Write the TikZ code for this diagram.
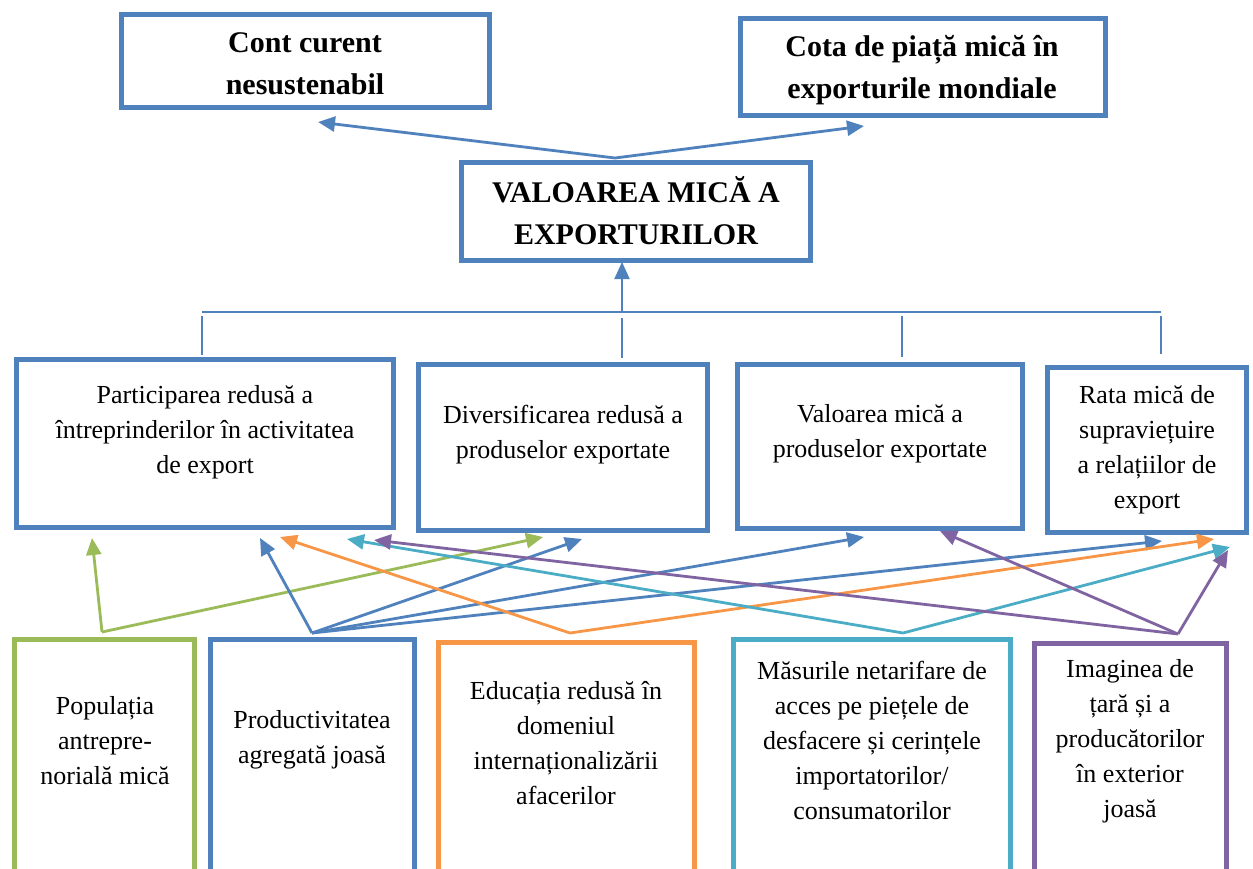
\documentclass[tikz,border=0pt]{standalone}
\usepackage{fontspec}
\setmainfont{Liberation Serif}
\usetikzlibrary{arrows.meta,calc}
\definecolor{cblue}{HTML}{4F81BD}
\definecolor{cgreen}{HTML}{9BBB59}
\definecolor{corange}{HTML}{F79646}
\definecolor{ccyan}{HTML}{4BACC6}
\definecolor{cpurple}{HTML}{8064A2}
\tikzset{
  box/.style={draw=#1, line width=5pt, inner sep=0pt, fill=white},
  txt/.style={align=center, inner sep=0pt, font=\fontsize{26}{35}\selectfont},
  ttl/.style={align=center, inner sep=0pt, font=\fontsize{30}{42}\selectfont\bfseries},
  arr/.style={draw=#1, line width=2.8pt, -{Triangle[length=17pt,width=15pt]}},
  thin/.style={draw=cblue, line width=1.3pt},
}
\begin{document}
\begin{tikzpicture}[x=1pt,y=-1pt]
\useasboundingbox (0,0) rectangle (1253,868);
\clip (0,0) rectangle (1253,868);
% top boxes
\node[box=cblue, minimum width=368pt, minimum height=93pt] (t1) at (305.5,61) {};
\node[ttl] (t1t) at (305,64) {Cont curent\\nesustenabil};
\node[box=cblue, minimum width=365pt, minimum height=97pt] (t2) at (923,67) {};
\node[ttl] (t2t) at (922,70) {Cota de piață mică în\\exporturile mondiale};
\node[box=cblue, minimum width=349pt, minimum height=98pt] (c) at (636,211.5) {};
\node[ttl] (ct) at (636,211) {VALOAREA MICĂ A\\EXPORTURILOR};
% middle boxes
\node[box=cblue, minimum width=377pt, minimum height=168pt] (m1) at (205,443.5) {};
\node[txt] (m1t) at (205,432) {Participarea redusă a\\întreprinderilor în activitatea\\de export};
\node[box=cblue, minimum width=289pt, minimum height=166pt] (m2) at (563,447.5) {};
\node[txt] (m2t) at (563,435) {Diversificarea redusă a\\produselor exportate};
\node[box=cblue, minimum width=285pt, minimum height=164pt] (m3) at (880,446.5) {};
\node[txt] (m3t) at (880,434) {Valoarea mică a\\produselor exportate};
\node[box=cblue, minimum width=199pt, minimum height=165pt] (m4) at (1147,450) {};
\node[txt] (m4t) at (1147,450) {Rata mică de\\supraviețuire\\a relațiilor de\\export};
% bottom boxes
\node[box=cgreen, minimum width=180pt, minimum height=260pt] (b1) at (104.5,769.5) {};
\node[txt] (b1t) at (105,741) {Populația\\antrepre-\\norială mică};
\node[box=cblue, minimum width=204pt, minimum height=260pt] (b2) at (312.5,769.5) {};
\node[txt] (b2t) at (312,740) {Productivitatea\\agregată joasă};
\node[box=corange, minimum width=256pt, minimum height=260pt] (b3) at (566.5,772.5) {};
\node[txt] (b3t) at (566,743) {Educația redusă în\\domeniul\\internaționalizării\\afacerilor};
\node[box=ccyan, minimum width=277pt, minimum height=260pt] (b4) at (872,769.5) {};
\node[txt] (b4t) at (872,740) {Măsurile netarifare de\\acces pe piețele de\\desfacere și cerințele\\importatorilor/\\consumatorilor};
\node[box=cpurple, minimum width=192pt, minimum height=260pt] (b5) at (1130.5,773.5) {};
\node[txt] (b5t) at (1130,741) {Imaginea de\\țară și a\\producătorilor\\în exterior\\joasă};
% top arrows
\coordinate (cs) at (615,158);
\coordinate (t1e) at (318,122);
\coordinate (t2e) at (864,126);
\draw[arr=cblue] (cs) -- (t1e);
\draw[arr=cblue] (cs) -- (t2e);
% tree connector
\coordinate (h0) at (622,312);
\coordinate (hl) at (202,312);
\coordinate (hr) at (1161,312);
\coordinate (ce) at (622,262);
\draw[arr=cblue, line width=2pt] (h0) -- (ce);
\draw[draw=cblue, line width=2.4pt] (hl) -- (hr);
\draw[thin] (202,316) -- (202,355);
\draw[thin] (622,318) -- (622,358);
\draw[thin] (902,316) -- (902,357);
\draw[thin] (1161,316) -- (1161,354);
% cause arrows
\coordinate (g0) at (102,632);
\coordinate (u0) at (312,633);
\coordinate (o0) at (570,633);
\coordinate (y0) at (903,633);
\coordinate (p0) at (1178,634);
\draw[arr=cgreen] (g0) -- (92,538);
\draw[arr=cgreen] (g0) -- (543,537);
\draw[arr=cblue] (u0) -- (260,538);
\draw[arr=cblue] (u0) -- (582,539);
\draw[arr=cblue] (u0) -- (864,537);
\draw[arr=cblue] (u0) -- (1162,541);
\draw[arr=corange] (o0) -- (280,537);
\draw[arr=corange] (o0) -- (1214,539);
\draw[arr=ccyan] (y0) -- (347,539);
\draw[arr=ccyan] (y0) -- (1230,547);
\draw[arr=cpurple] (p0) -- (374,540);
\draw[arr=cpurple] (p0) -- (940,531);
\draw[arr=cpurple] (p0) -- (1228,550);
\end{tikzpicture}
\end{document}
